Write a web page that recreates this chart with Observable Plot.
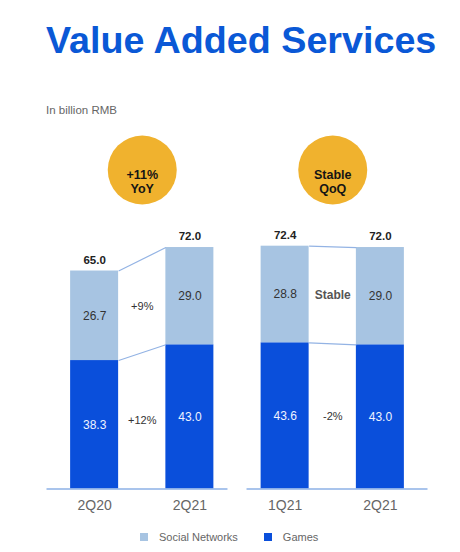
<!DOCTYPE html>
<html>
<head>
<meta charset="utf-8">
<script src="https://cdn.jsdelivr.net/npm/d3@7"></script>
<script src="https://cdn.jsdelivr.net/npm/@observablehq/plot@0.6"></script>
<style>
  html, body { margin: 0; padding: 0; background: #fff; }
  body { width: 460px; height: 552px; position: relative; overflow: hidden;
         font-family: "Liberation Sans", Arial, sans-serif; }
  #title { position: absolute; left: 46px; top: 22px; font-size: 37.7px; font-weight: bold;
           color: #0A58D6; white-space: nowrap; line-height: 1; }
  #subtitle { position: absolute; left: 46px; top: 105px; font-size: 11.5px; color: #666;
              line-height: 1; white-space: nowrap; }
  #chart { position: absolute; left: 0; top: 125px; }
  #legend { position: absolute; left: 140px; top: 531px; height: 12px; display: flex;
            align-items: center; font-size: 11px; color: #666; }
  #legend .item { display: flex; align-items: center; margin-right: 26px; }
  #legend .sw { width: 8px; height: 8px; margin-right: 11px; }
</style>
</head>
<body>
<div id="title">Value Added Services</div>
<div id="subtitle">In billion RMB</div>
<div id="chart"></div>
<div id="legend"></div>
<script>
// ---- data ----
const periods = ["2Q20", "2Q21", "1Q21", "2Q21"];
const games = [38.3, 43.0, 43.6, 43.0];
const social = [26.7, 29.0, 28.8, 29.0];
const totals = [65.0, 72.0, 72.4, 72.0];
const panels = ["YoY", "QoQ"];
const badges = ["+11%\nYoY", "Stable\nQoQ"];
const socialChange = ["+9%", "Stable"];
const gamesChange = ["+12%", "-2%"];
const series = ["Social Networks", "Games"];
const colors = ["#A7C4E2", "#0A4FDB"];

// ---- derived tables ----
const hw = 0.252; // half bar width in band steps
const bars = periods.flatMap((p, i) => [
  {i, series: "Games", y1: 0, y2: games[i], value: games[i]},
  {i, series: "Social Networks", y1: games[i], y2: games[i] + social[i], value: social[i]}
]);
const panelData = panels.map((name, k) => ({
  k, name, a: 2 * k, b: 2 * k + 1, badge: badges[k],
  sc: socialChange[k], gc: gamesChange[k]
}));
const links = panelData.flatMap(p => [
  {x1: p.a + hw, x2: p.b - hw, y1: games[p.a] + social[p.a], y2: games[p.b] + social[p.b]},
  {x1: p.a + hw, x2: p.b - hw, y1: games[p.a], y2: games[p.b]}
]);
const mid = (lo, hi) => (lo + hi) / 2;
const font = '"Liberation Sans", Arial, sans-serif';
const scY = d => mid(mid(games[d.a], totals[d.a]), mid(games[d.b], totals[d.b]));

const chart = Plot.plot({
  width: 460,
  height: 400,
  margin: 0,
  x: {type: "linear", domain: [-0.5, 3.5], range: [46.5, 427.5], axis: null},
  y: {domain: [0, 80], range: [363.5, 95.2], axis: null},
  color: {domain: series, range: colors},
  style: {fontFamily: font, background: "#fff", overflow: "visible"},
  marks: [
    // badges
    Plot.dot(panelData, {x: d => d.a + 0.5, frameAnchor: "top", dy: 44.5, r: 34.5, fill: "#F0B22E"}),
    Plot.text(panelData, {x: d => d.a + 0.5, frameAnchor: "top", dy: 44.5, text: "badge",
      fontSize: 12.5, fontWeight: "bold", fill: "#151515", lineHeight: 1.06}),
    // stacked bars
    Plot.rect(bars, {x1: d => d.i - hw, x2: d => d.i + hw, y1: "y1", y2: "y2", fill: "series"}),
    // connectors
    Plot.link(links, {x1: "x1", x2: "x2", y1: "y1", y2: "y2", stroke: "#93B3E4", strokeWidth: 1.2}),
    // baselines per panel
    Plot.ruleY(panelData, {y: 0,
      x1: d => d.k === 0 ? d.a - 0.5 : d.a - 0.4,
      x2: d => d.k === 0 ? d.b + 0.4 : d.b + 0.5,
      stroke: "#8DB1E6", strokeWidth: 1.5}),
    // segment values
    Plot.text(bars.filter(d => d.series === "Social Networks"), {x: "i", y: d => mid(d.y1, d.y2),
      text: d => d.value.toFixed(1), fill: "#333", fontSize: 12}),
    Plot.text(bars.filter(d => d.series === "Games"), {x: "i", y: d => mid(d.y1, d.y2),
      text: d => d.value.toFixed(1), fill: "#EEF3FF", fontSize: 12}),
    // totals
    Plot.text(totals, {x: (d, i) => i, y: d => d, dy: -11, text: d => d.toFixed(1),
      fontWeight: "bold", fontSize: 11.5, fill: "#222"}),
    // change labels
    Plot.text(panelData.filter(d => d.sc !== "Stable"), {x: d => d.a + 0.5, y: scY,
      text: "sc", fontSize: 11, fill: "#333"}),
    Plot.text(panelData.filter(d => d.sc === "Stable"), {x: d => d.a + 0.5, y: scY,
      text: "sc", fontSize: 12, fontWeight: "bold", fill: "#555"}),
    Plot.text(panelData, {x: d => d.a + 0.5,
      y: d => mid(games[d.a] / 2, games[d.b] / 2),
      text: "gc", fontSize: 11, fill: "#333"}),
    // period labels
    Plot.text(periods, {x: (d, i) => i, y: 0, dy: 16.5, text: d => d, fontSize: 14, fill: "#666"})
  ]
});
document.getElementById("chart").appendChild(chart);

// legend
const legend = document.getElementById("legend");
series.forEach((s, k) => {
  const item = document.createElement("div");
  item.className = "item";
  const sw = document.createElement("div");
  sw.className = "sw";
  sw.style.background = colors[k];
  const label = document.createElement("span");
  label.textContent = s;
  item.appendChild(sw);
  item.appendChild(label);
  legend.appendChild(item);
});
</script>
</body>
</html>
